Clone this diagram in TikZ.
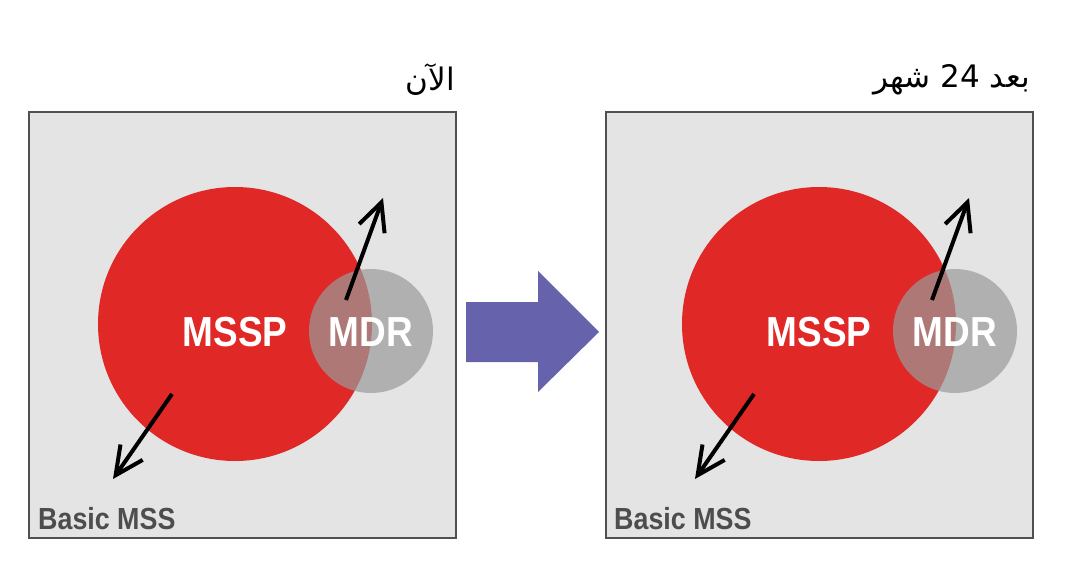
\documentclass[tikz,border=0pt]{standalone}
\usepackage{fontspec}
\setmainfont{Liberation Sans}
\newfontfamily\condfont[FakeStretch=0.88]{Liberation Sans}
\newfontfamily\arabicfont[Script=Arabic]{DejaVu Sans}
\TeXXeTstate=1
\usetikzlibrary{arrows.meta}
\definecolor{boxfill}{RGB}{228,228,228}
\definecolor{boxline}{RGB}{80,80,80}
\definecolor{mssred}{RGB}{224,40,38}
\definecolor{mdrgray}{RGB}{154,154,154}
\definecolor{bigarrow}{RGB}{103,98,172}
\definecolor{basictext}{RGB}{77,77,77}
\tikzset{
  panel/.style={draw=boxline, line width=2pt, fill=boxfill, minimum width=427pt, minimum height=426pt, inner sep=0pt},
  msspcircle/.style={circle, fill=mssred, minimum size=274pt, inner sep=0pt},
  mdrcircle/.style={circle, fill=mdrgray, fill opacity=0.7, minimum size=124pt, inner sep=0pt},
  biglabel/.style={text=white, font=\condfont\fontsize{42}{46}\selectfont\bfseries, inner sep=0pt, anchor=base},
  basiclabel/.style={text=basictext, font=\condfont\fontsize{30.5}{34}\selectfont\bfseries, inner sep=0pt, anchor=base west},
  arlabel/.style={text=black, font=\arabicfont\fontsize{31}{35}\selectfont, inner sep=0pt, anchor=base east},
  ptr/.style={line width=4pt, -{Straight Barb[length=28pt,width=27pt]}},
}
\begin{document}
\begin{tikzpicture}[x=1pt,y=-1pt]
\useasboundingbox[fill=white] (0,0) rectangle (1068,578);
% left panel
\node[panel] (boxL) at (242.5,325) {};
\node[msspcircle] (msspL) at (235,324) {};
\node[mdrcircle] (mdrL) at (371,331) {};
\node[biglabel] (msspTL) at (235,346) {MSSP};
\node[biglabel] (mdrTL) at (371,346) {MDR};
\coordinate (upLs) at (346,300);
\coordinate (upLe) at (383,198);
\coordinate (dnLs) at (172,394);
\coordinate (dnLe) at (113,479);
\draw[ptr] (upLs) -- (upLe);
\draw[ptr] (dnLs) -- (dnLe);
\node[basiclabel] (basicL) at (38,529) {Basic MSS};
\node[arlabel] (nowL) at (455,90) {\beginR الآن\endR};
% big arrow
\fill[bigarrow] (466,302) -- (538,302) -- (538,271) -- (599,332) -- (538,392) -- (538,362) -- (466,362) -- cycle;
% right panel
\node[panel] (boxR) at (819,325) {};
\node[msspcircle] (msspR) at (819,324) {};
\node[mdrcircle] (mdrR) at (955,331) {};
\node[biglabel] (msspTR) at (819,346) {MSSP};
\node[biglabel] (mdrTR) at (955,346) {MDR};
\coordinate (upRs) at (932,300);
\coordinate (upRe) at (969,198);
\coordinate (dnRs) at (754,394);
\coordinate (dnRe) at (695,479);
\draw[ptr] (upRs) -- (upRe);
\draw[ptr] (dnRs) -- (dnRe);
\node[basiclabel] (basicR) at (614,529) {Basic MSS};
\node[arlabel] (laterR) at (1030,88) {\beginR بعد \beginL24\endL{} شهر\endR};
\end{tikzpicture}
\end{document}
